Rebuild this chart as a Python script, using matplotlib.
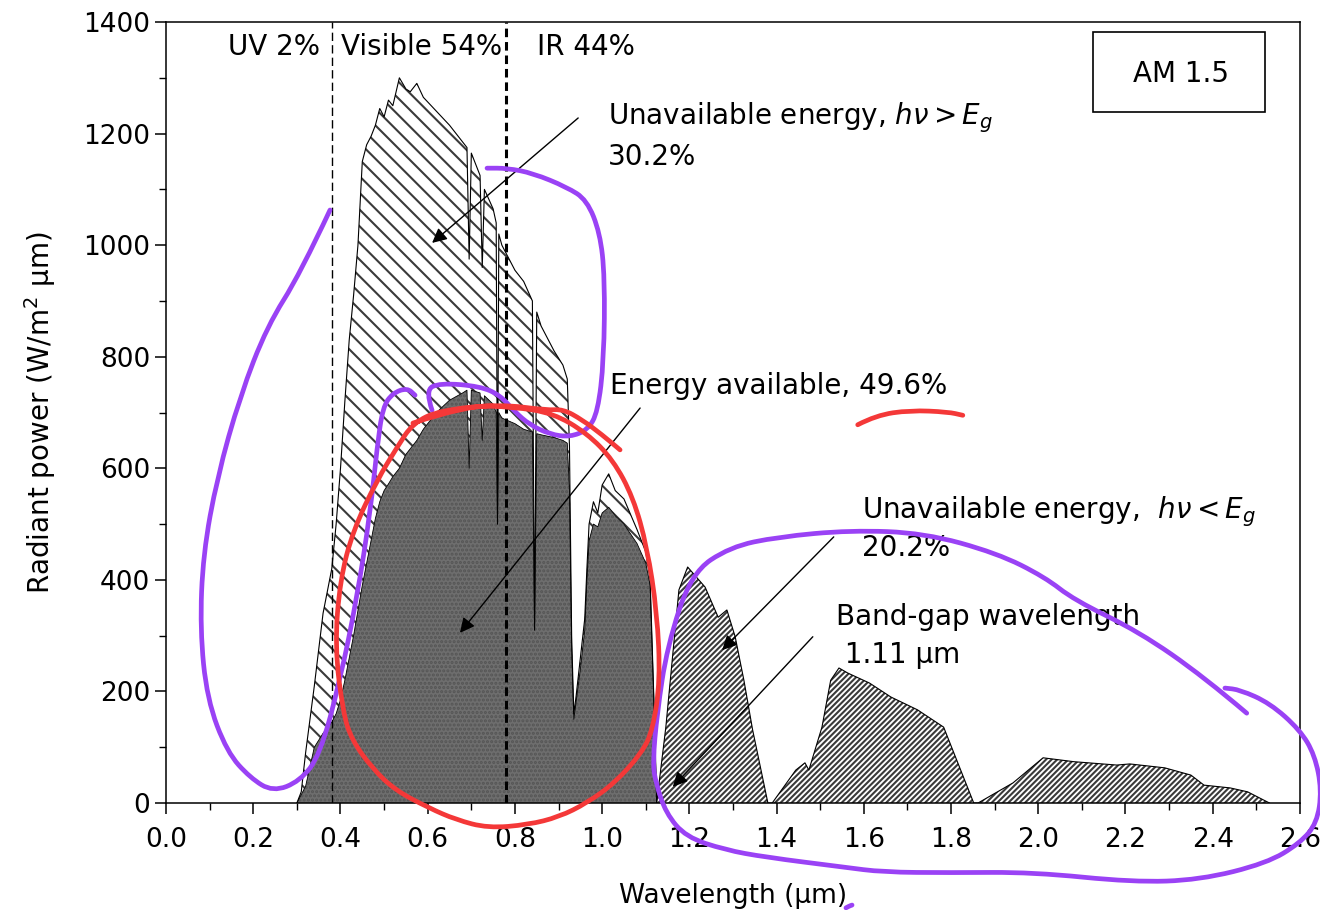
import numpy as np
import matplotlib.pyplot as plt
from matplotlib.patches import Rectangle, PathPatch
from matplotlib.path import Path
from matplotlib.ticker import MultipleLocator

plt.rcParams['font.family'] = ['DejaVu Sans']
plt.rcParams['hatch.linewidth'] = 1.5

# AM 1.5 spectrum, visible / near-IR part (um, W/m2 um)
wl_vis = [0.30, 0.31, 0.32, 0.34, 0.36, 0.37, 0.38, 0.39, 0.40, 0.41, 0.42, 0.43, 0.44,
          0.45, 0.46, 0.47, 0.48, 0.49, 0.50, 0.51, 0.52, 0.535, 0.55, 0.56, 0.575,
          0.59, 0.62, 0.65, 0.68, 0.69, 0.695, 0.70, 0.72, 0.725, 0.73, 0.75, 0.757,
          0.76, 0.763, 0.77, 0.80, 0.82, 0.84, 0.845, 0.85, 0.86, 0.89, 0.91, 0.92,
          0.925, 0.93, 0.935, 0.94, 0.95, 0.96, 0.965, 0.97, 0.98, 0.99, 1.00, 1.015,
          1.03, 1.05, 1.08, 1.10, 1.11, 1.12, 1.125]
total_vis = [0, 20, 90, 210, 340, 380, 420, 500, 600, 720, 830, 910, 1000,
             1150, 1180, 1195, 1215, 1245, 1230, 1260, 1250, 1300, 1280, 1275, 1290,
             1265, 1240, 1215, 1185, 1175, 975, 1165, 1125, 960, 1100, 1065, 1040,
             500, 1020, 1000, 955, 935, 900, 310, 880, 855, 810, 785, 760,
             640, 300, 160, 190, 260, 330, 420, 500, 540, 520, 570, 590,
             560, 545, 490, 450, 400, 150, 0]
# part usable by a 1.11 um band-gap cell
avail_vis = [0, 15, 30, 100, 125, 135, 145, 160, 185, 220, 260, 300, 345,
             390, 430, 470, 510, 540, 560, 572, 585, 600, 625, 635, 650,
             670, 700, 722, 735, 740, 600, 740, 735, 650, 730, 715, 700,
             500, 700, 690, 680, 670, 665, 310, 662, 660, 655, 650, 645,
             560, 280, 150, 180, 240, 310, 400, 470, 500, 495, 520, 530,
             515, 500, 465, 430, 390, 150, 0]

# beyond the band gap
wl_ir = [1.125, 1.146, 1.176, 1.196, 1.236, 1.266, 1.286, 1.305, 1.325, 1.345, 1.38,
         1.39, 1.444, 1.465, 1.474, 1.504, 1.524, 1.543, 1.563, 1.613, 1.662, 1.723,
         1.783, 1.852, 1.862, 1.942, 2.011, 2.082, 2.18, 2.21, 2.29, 2.35, 2.38,
         2.44, 2.48, 2.53]
total_ir = [0, 136, 382, 423, 387, 333, 346, 298, 220, 131, 0,
            0, 59, 72, 59, 136, 220, 242, 233, 215, 190, 167,
            136, 0, 0, 36, 81, 74, 68, 70, 63, 50, 32,
            27, 20, 0]

uv_edge = 0.38
ir_edge = 0.78
region_labels = ['UV 2%', 'Visible 54%', 'IR 44%']
region_x = [0.248, 0.585, 0.963]

# hand-drawn marks on the picture (um, W/m2 um)
purple1_x = [0.376, 0.307, 0.232, 0.170, 0.117, 0.085, 0.078, 0.094, 0.140, 0.193, 0.245,
             0.307, 0.353, 0.399, 0.438, 0.468, 0.484, 0.497, 0.520, 0.553, 0.571]
purple1_y = [1063, 948, 855, 730, 583, 446, 312, 186, 91, 45, 20,
             39, 86, 220, 369, 520, 638, 710, 735, 744, 731]
purple2_x = [0.610, 0.594, 0.628, 0.720, 0.766, 0.800, 0.834, 0.880, 0.926, 0.967, 0.990,
             1.004, 1.006, 0.995, 0.965, 0.919, 0.841, 0.782, 0.736]
purple2_y = [704, 740, 753, 747, 731, 701, 678, 661, 656, 669, 701,
             794, 943, 1022, 1081, 1104, 1129, 1138, 1138]
purple3_x = [2.478, 2.380, 2.231, 2.082, 2.015, 1.905, 1.738, 1.570, 1.403, 1.293, 1.204,
             1.149, 1.126, 1.116, 1.123, 1.146, 1.192, 1.282, 1.373, 1.554, 1.644, 1.797,
             1.988, 2.217, 2.370, 2.524, 2.600, 2.639, 2.650, 2.634, 2.600, 2.531, 2.462, 2.428]
purple3_y = [161, 226, 307, 364, 405, 448, 484, 489, 477, 459, 412,
             280, 161, 72, 36, -18, -61, -84, -97, -115, -124, -125,
             -124, -142, -138, -108, -72, -36, 23, 86, 131, 179, 203, 206]
purple4_x = [1.559, 1.566, 1.573]
purple4_y = [-188, -185, -183]
red1_x = [0.566, 0.690, 0.796, 0.887, 0.965, 1.025, 1.071, 1.103, 1.126, 1.133, 1.116,
          1.091, 1.029, 0.965, 0.901, 0.830, 0.738, 0.665, 0.603, 0.525, 0.472, 0.426,
          0.406, 0.387, 0.399, 0.429, 0.484, 0.530, 0.566, 0.628, 0.766, 0.873, 0.910,
          0.954, 1.000, 1.041]
red1_y = [681, 713, 710, 699, 663, 615, 548, 459, 341, 220, 131,
          90, 36, 0, -25, -39, -45, -30, -9, 23, 63, 113,
          161, 280, 400, 489, 579, 638, 681, 704, 715, 704, 706,
          687, 660, 633]
red2_x = [1.586, 1.628, 1.706, 1.793, 1.827]
red2_y = [678, 695, 704, 701, 695]


def stroke(ax, xs, ys, color):
    # smooth pen stroke: points are control points of a quadratic spline
    pts = np.column_stack([xs, ys]).astype(float)
    verts = [pts[0]]
    codes = [Path.MOVETO]
    for i in range(1, len(pts) - 1):
        verts += [pts[i], (pts[i] + pts[i + 1]) / 2]
        codes += [Path.CURVE3, Path.CURVE3]
    verts.append(pts[-1])
    codes.append(Path.LINETO)
    ax.add_patch(PathPatch(Path(verts, codes), fill=False, ec=color, lw=3.4,
                           capstyle='round', joinstyle='round', clip_on=False, zorder=5))


fig = plt.figure(figsize=(13.2, 9.1), dpi=100)
ax = fig.add_axes([0.1258, 0.1176, 0.859, 0.8582])

ax.fill_between(wl_vis, avail_vis, total_vis, facecolor='white', edgecolor='#3a3a3a',
                hatch='\\\\', linewidth=0)
ax.fill_between(wl_vis, 0, avail_vis, facecolor='#6e6e6e', edgecolor='#555555',
                hatch='....', linewidth=0)
ax.fill_between(wl_ir, 0, total_ir, facecolor='white', edgecolor='#3a3a3a',
                hatch='//////', linewidth=0)
ax.plot(wl_vis, total_vis, color='black', lw=0.8)
ax.plot(wl_vis, avail_vis, color='black', lw=0.6)
ax.plot(wl_ir, total_ir, color='black', lw=0.8)

ax.axvline(uv_edge, color='black', lw=1.0, ls=(0, (6, 3)))
ax.axvline(ir_edge, color='black', lw=2.2, ls=(0, (2.8, 1.6)))
for lab, xx in zip(region_labels, region_x):
    ax.text(xx, 1355, lab, fontsize=20, ha='center', va='center')

arrow = dict(arrowstyle='-|>', color='black', lw=1.0, mutation_scale=22,
             shrinkA=0, shrinkB=0)
ax.annotate('', xy=(0.610, 1004), xytext=(0.945, 1228), arrowprops=arrow)
ax.annotate('', xy=(0.674, 305), xytext=(1.087, 708), arrowprops=arrow)
ax.annotate('', xy=(1.275, 274), xytext=(1.531, 477), arrowprops=arrow)
ax.annotate('', xy=(1.162, 29), xytext=(1.483, 298), arrowprops=arrow)

ax.text(1.013, 1228, r'Unavailable energy, $h\nu > E_g$', fontsize=20, va='center')
ax.text(1.013, 1158, '30.2%', fontsize=20, va='center')
ax.text(1.018, 747, 'Energy available, 49.6%', fontsize=20, va='center')
ax.text(1.596, 522, r'Unavailable energy,  $h\nu < E_g$', fontsize=20, va='center')
ax.text(1.596, 457, '20.2%', fontsize=20, va='center')
ax.text(1.536, 333, 'Band-gap wavelength', fontsize=20, va='center')
ax.text(1.536, 265, ' 1.11 \u00b5m', fontsize=20, va='center')

ax.add_patch(Rectangle((2.125, 1239), 0.395, 143, fill=False, ec='black', lw=1.2))
ax.text(2.328, 1307, 'AM 1.5', fontsize=20, ha='center', va='center')

for xs, ys in [(purple1_x, purple1_y), (purple2_x, purple2_y),
               (purple3_x, purple3_y), (purple4_x, purple4_y)]:
    stroke(ax, xs, ys, '#9a42f5')
for xs, ys in [(red1_x, red1_y), (red2_x, red2_y)]:
    stroke(ax, xs, ys, '#f43838')

ax.set_xlim(0, 2.6)
ax.set_ylim(0, 1400)
ax.xaxis.set_major_locator(MultipleLocator(0.2))
ax.xaxis.set_minor_locator(MultipleLocator(0.1))
ax.yaxis.set_major_locator(MultipleLocator(200))
ax.yaxis.set_minor_locator(MultipleLocator(100))
ax.xaxis.set_major_formatter(lambda v, p: f'{v:.1f}')
ax.tick_params(axis='x', which='major', pad=9)
ax.tick_params(which='major', direction='out', length=8, width=1.1, labelsize=19)
ax.tick_params(which='minor', direction='out', length=5, width=1.0)
for s in ax.spines.values():
    s.set_linewidth(1.1)
ax.set_xlabel('Wavelength (\u00b5m)', fontsize=19, labelpad=22)
ax.set_ylabel('Radiant power (W/m$^2$ \u00b5m)', fontsize=20, labelpad=18)

fig.savefig('out.png', dpi=100)
